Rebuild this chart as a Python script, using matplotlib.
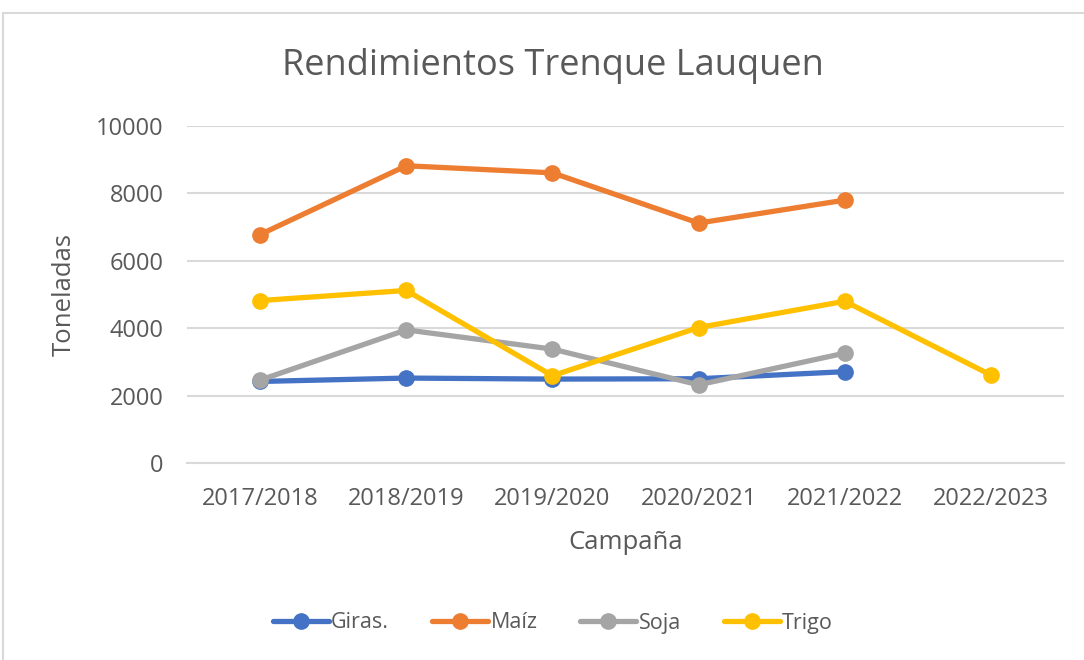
import matplotlib.pyplot as plt
from matplotlib.patches import Rectangle

# Datos
campanas = ["2017/2018", "2018/2019", "2019/2020", "2020/2021", "2021/2022", "2022/2023"]
giras = [2420, 2520, 2490, 2500, 2710]
maiz = [6780, 8820, 8610, 7120, 7800]
soja = [2460, 3950, 3380, 2320, 3260]
trigo = [4820, 5120, 2590, 4020, 4800, 2610]

colores = {"Giras.": "#4472C4", "Maíz": "#ED7D31", "Soja": "#A5A5A5", "Trigo": "#FFC000"}
series = [("Giras.", giras), ("Maíz", maiz), ("Soja", soja), ("Trigo", trigo)]

plt.rcParams["font.family"] = ["Open Sans", "DejaVu Sans"]
texto = "#595959"

fig = plt.figure(figsize=(10.84, 6.6), dpi=100)
ax = fig.add_axes([187 / 1084, 1 - 463 / 660, (1064 - 187) / 1084, (463 - 126) / 660])

# Marco del gráfico
fig.patches.append(Rectangle((3 / 1084, -0.1), 1.2, 1 - 13 / 660 + 0.1, transform=fig.transFigure,
                             fill=False, edgecolor="#D9D9D9", linewidth=1.5))

x = list(range(len(campanas)))
for nombre, valores in series:
    ax.plot(x[:len(valores)], valores, color=colores[nombre], linewidth=3.8, marker="o",
            markersize=11, solid_capstyle="round", label=nombre)

ax.set_xlim(-0.5, len(campanas) - 0.5)
ax.set_ylim(0, 10000)
ax.set_yticks(range(0, 10001, 2000))
ax.set_xticks(x)
ax.set_xticklabels(campanas)
ax.tick_params(axis="both", length=0, labelsize=17, colors=texto)
ax.tick_params(axis="y", pad=17)
ax.tick_params(axis="x", pad=17)

ax.grid(axis="y", color="#D9D9D9", linewidth=1.5)
ax.set_axisbelow(True)
for lado in ["top", "right", "left"]:
    ax.spines[lado].set_visible(False)
ax.spines["bottom"].set_color("#D9D9D9")
ax.spines["bottom"].set_linewidth(1.5)

ax.set_xlabel("Campaña", fontsize=18.5, color=texto, labelpad=14)
ax.set_ylabel("Toneladas", fontsize=18.5, color=texto, labelpad=14)
fig.text(553 / 1084, 1 - 66 / 660, "Rendimientos Trenque Lauquen", fontsize=26,
         color=texto, ha="center", va="center")

fig.legend(loc="center", bbox_to_anchor=(553 / 1084, 1 - 623 / 660), ncol=4, frameon=False,
           fontsize=15.5, labelcolor=texto, handlelength=2.6, handletextpad=0.1, columnspacing=2.0)

fig.savefig("out.png", dpi=100)
